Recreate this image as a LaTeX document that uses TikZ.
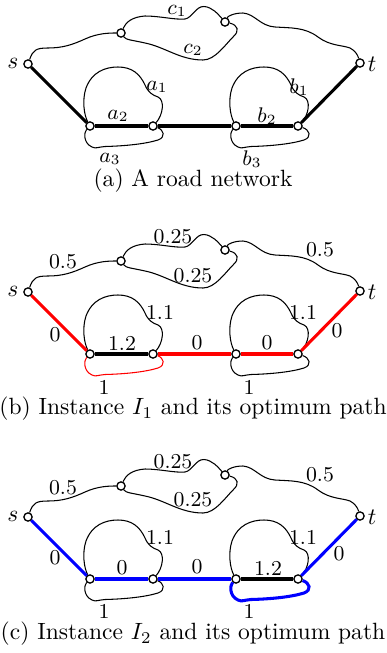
\documentclass[tikz,border=0pt]{standalone}
\usepackage{tikz}

\tikzset{
  vtx/.style={circle,draw,fill=white,inner sep=0pt,minimum size=3.5pt,line width=0.55pt},
  road/.style={line width=0.45pt},
  main/.style={line width=1.3pt},
  lbl/.style={font=\small,inner sep=0.5pt},
  edgeSA/.style={main},edgeAA/.style={main},edgeMid/.style={main},
  edgeBB/.style={main},edgeBT/.style={main},
  loopA/.style={road},loopB/.style={road}}

% one copy of the network, #1 is the prefix of its node names
\newcommand{\roadnet}[1]{%
  \node[vtx](#1s) at (28,64){};
  \node[vtx](#1t) at (360,63){};
  \node[vtx](#1cl) at (121,33){};
  \node[vtx](#1cr) at (225,22){};
  \node[vtx](#1a) at (90,126){};
  \node[vtx](#1aa) at (153,126){};
  \node[vtx](#1b) at (236,126){};
  \node[vtx](#1bb) at (298,126){};
  \node(#1ls) at (13,63){$s$};
  \node(#1lt) at (372,64){$t$};
  \draw[road](#1s)..controls(33,50)and(36,48)..(48,48)..controls(62,48)and(72,45)..(85,39)
    ..controls(98,33)and(110,33)..(#1cl);
  \draw[road](#1cl)..controls(126,22)and(132,17)..(145,16)..controls(160,16)and(175,20)..(185,19)
    ..controls(192,18)and(196,6)..(204,6.5)..controls(212,7)and(218,14)..(#1cr);
  \draw[road](#1cl)..controls(126,40)and(132,40)..(145,43)..controls(165,47)and(180,60)..(203,60)
    ..controls(215,60)and(225,45)..(233,37)..controls(240,31)and(238,25)..(#1cr);
  \draw[road](#1cr)..controls(228,16)and(234,13)..(243,13)..controls(255,14)and(260,26)..(275,27)
    ..controls(290,28)and(305,27)..(318,37)..controls(330,46)and(342,45)..(350,48)
    ..controls(356,51)and(358,56)..(#1t);
  \draw[road](#1a)..controls(84,115)and(82,100)..(86,88)..controls(92,72)and(105,67)..(118,67)
    ..controls(132,67)and(140,74)..(145,85)..controls(148,92)and(152,95)..(158,97)
    ..controls(165,100)and(163,115)..(#1aa);
  \draw[road](#1b)..controls(230,115)and(228,100)..(232,88)..controls(238,72)and(251,67)..(264,67)
    ..controls(278,67)and(286,74)..(291,85)..controls(294,92)and(298,95)..(304,97)
    ..controls(311,100)and(309,115)..(#1bb);
  \draw[loopA](#1a)..controls(84,132)and(83,143)..(92,147)..controls(96,149)and(98,147)..(105,146.5)
    ..controls(125,146)and(145,144)..(158,140)..controls(166,137)and(164,130)..(#1aa);
  \draw[loopB](#1b)..controls(230,132)and(229,143)..(238,147)..controls(242,149)and(244,147)..(251,146.5)
    ..controls(271,146)and(291,144)..(304,140)..controls(312,137)and(310,130)..(#1bb);
  \draw[edgeSA](#1s)--(#1a);
  \draw[edgeAA](#1a)--(#1aa);
  \draw[edgeMid](#1aa)--(#1b);
  \draw[edgeBB](#1b)--(#1bb);
  \draw[edgeBT](#1bb)--(#1t);}

\begin{document}
\begin{tikzpicture}[x=0.425pt,y=-0.425pt]
  \useasboundingbox(0,0)rectangle(387,653);
  % (a) the network
  \begin{scope}
    \roadnet{p}
    \node[lbl](pc1) at (177,11){$c_1$};
    \node[lbl](pc2) at (193,50){$c_2$};
    \node[lbl](pa1) at (157,87){$a_1$};
    \node[lbl](pa2) at (118,116){$a_2$};
    \node[lbl](pa3) at (110,159){$a_3$};
    \node[lbl](pb1) at (299,87){$b_1$};
    \node[lbl](pb2) at (267,116){$b_2$};
    \node[lbl](pb3) at (252,159){$b_3$};
    \node(pcap) at (193,181){(a) A road network};
  \end{scope}
  % (b) instance I_1
  \begin{scope}[shift={(0,228)},edgeSA/.style={main,red},edgeMid/.style={main,red},
      edgeBB/.style={main,red},edgeBT/.style={main,red},loopA/.style={road,red}]
    \roadnet{q}
    \node[lbl](qsc) at (63,34){0.5};
    \node[lbl](qc1) at (173,9){0.25};
    \node[lbl](qc2) at (193,48){0.25};
    \node[lbl](qct) at (320,22){0.5};
    \node[lbl](qa1) at (160,84){1.1};
    \node[lbl](qa2) at (122,115){1.2};
    \node[lbl](qa3) at (104,159){1};
    \node[lbl](qsa) at (55,107){0};
    \node[lbl](qab) at (197,115){0};
    \node[lbl](qb1) at (303,84){1.1};
    \node[lbl](qb2) at (267,115){0};
    \node[lbl](qb3) at (249,159){1};
    \node[lbl](qbt) at (337,103){0};
    \node(qcap) at (193,181){(b) Instance $I_1$ and its optimum path};
  \end{scope}
  % (c) instance I_2
  \begin{scope}[shift={(0,453)},edgeSA/.style={main,blue},edgeAA/.style={main,blue},
      edgeMid/.style={main,blue},edgeBT/.style={main,blue},loopB/.style={main,blue}]
    \roadnet{r}
    \node[lbl](rsc) at (63,35){0.5};
    \node[lbl](rc1) at (173,9){0.25};
    \node[lbl](rc2) at (193,47){0.25};
    \node[lbl](rct) at (320,22){0.5};
    \node[lbl](ra1) at (160,84){1.1};
    \node[lbl](ra2) at (122,115){0};
    \node[lbl](ra3) at (104,158){1};
    \node[lbl](rsa) at (55,105){0};
    \node[lbl](rab) at (197,114){0};
    \node[lbl](rb1) at (303,84){1.1};
    \node[lbl](rb2) at (268,115){1.2};
    \node[lbl](rb3) at (249,158){1};
    \node[lbl](rbt) at (339,101){0};
    \node(rcap) at (193,181){(c) Instance $I_2$ and its optimum path};
  \end{scope}
\end{tikzpicture}
\end{document}
